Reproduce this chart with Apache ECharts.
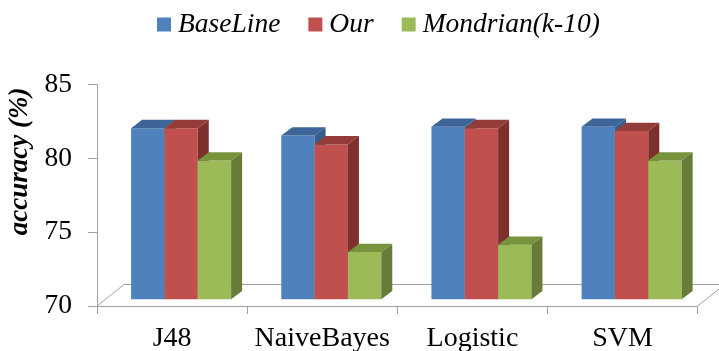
<!DOCTYPE html>
<html>
<head>
<meta charset="utf-8">
<script src="https://cdn.jsdelivr.net/npm/echarts@6/dist/echarts.min.js"></script>
<style>
  html, body { margin: 0; padding: 0; background: #fff; }
  #chart { width: 719px; height: 351px; }
</style>
</head>
<body>
<div id="chart"></div>
<script>
// Classifier accuracy (%) per method
const categories = ['J48', 'NaiveBayes', 'Logistic', 'SVM'];
const seriesNames = ['BaseLine', 'Our', 'Mondrian(k-10)'];
const baseline = [81.6, 81.1, 81.7, 81.7];
const ours = [81.6, 80.5, 81.6, 81.4];
const mondrian = [79.4, 73.2, 73.7, 79.4];
const yTicks = [70, 75, 80, 85];

// Face colours for each series: front, top, side
const palette = [
  { front: '#4F81BD', top: '#3D6597', side: '#385D8A' },
  { front: '#C0504D', top: '#943C3A', side: '#7D302E' },
  { front: '#9BBB59', top: '#77933C', side: '#667C38' }
];

// Oblique 3D geometry (pixels)
const FLOOR_DX = 27, FLOOR_DY = -21.5;   // depth of the floor
const PLANE_DX = 9, PLANE_DY = -6.7;     // where the bar fronts sit on the floor
const BAR_DX = 11, BAR_DY = -8.3;        // depth of each bar
const BAR_FRAC = 0.222;                  // bar width as fraction of a category band
const AXIS_GRAY = '#a0a0a0';
const SERIF = 'Liberation Serif';

const yMin = yTicks[0], yMax = yTicks[yTicks.length - 1];

function barRenderer(idx) {
  const col = palette[idx];
  return function (params, api) {
    const c = api.value(0), v = api.value(1);
    const topPt = api.coord([c, v]);
    const basePt = api.coord([c, yMin]);
    const band = api.size([1, 0])[0];
    const w = band * BAR_FRAC;
    const x0 = topPt[0] - 1.5 * w + idx * w + PLANE_DX;
    const x1 = x0 + w;
    const yt = topPt[1] + PLANE_DY;
    const yb = basePt[1] + PLANE_DY;
    return {
      type: 'group',
      children: [
        { type: 'rect', shape: { x: x0, y: yt, width: w, height: yb - yt },
          style: { fill: col.front } },
        { type: 'polygon', shape: { points: [[x0, yt], [x1, yt], [x1 + BAR_DX, yt + BAR_DY], [x0 + BAR_DX, yt + BAR_DY]] },
          style: { fill: col.top } },
        { type: 'polygon', shape: { points: [[x1, yt], [x1 + BAR_DX, yt + BAR_DY], [x1 + BAR_DX, yb + BAR_DY], [x1, yb]] },
          style: { fill: col.side } }
      ]
    };
  };
}

function floorRenderer(params, api) {
  const cs = params.coordSys;
  const xL = cs.x, xR = cs.x + cs.width;
  const y0 = api.coord([0, yMin])[1];
  return {
    type: 'polyline',
    shape: { points: [[xL, y0], [xL + FLOOR_DX, y0 + FLOOR_DY], [xR + FLOOR_DX, y0 + FLOOR_DY], [xR, y0]] },
    style: { stroke: AXIS_GRAY, lineWidth: 1, fill: null }
  };
}

const values = [baseline, ours, mondrian];
const series = [{
  type: 'custom',
  name: '_floor',
  renderItem: floorRenderer,
  data: [[0, yMin]],
  silent: true,
  z: 1
}];
values.forEach(function (arr, i) {
  series.push({
    type: 'custom',
    name: seriesNames[i],
    renderItem: barRenderer(i),
    itemStyle: { color: palette[i].front },
    encode: { x: 0, y: 1 },
    data: arr.map(function (v, c) { return [c, v]; }),
    z: 2 + i
  });
});

const chart = echarts.init(document.getElementById('chart'), null, { renderer: 'canvas' });
chart.setOption({
  animation: false,
  backgroundColor: '#fff',
  textStyle: { fontFamily: SERIF },
  legend: {
    data: seriesNames,
    left: 152,
    top: 6,
    icon: 'rect',
    itemWidth: 14,
    itemHeight: 14,
    itemGap: 28,
    textStyle: { fontFamily: SERIF, fontStyle: 'italic', fontSize: 27.5, color: '#000', padding: [0, 0, 0, 2] }
  },
  grid: { left: 97, right: 21.3, top: 84.7, bottom: 45, containLabel: false, outerBoundsMode: 'none' },
  xAxis: {
    type: 'category',
    data: categories,
    boundaryGap: true,
    axisLine: { show: true, lineStyle: { color: AXIS_GRAY, width: 1 } },
    axisTick: { show: true, length: 8, lineStyle: { color: AXIS_GRAY } },
    axisLabel: { fontFamily: SERIF, fontSize: 28, color: '#000', margin: 19, interval: 0, hideOverlap: false },
    splitLine: { show: false }
  },
  yAxis: {
    type: 'value',
    min: yMin,
    max: yMax,
    interval: 5,
    name: 'accuracy (%)',
    nameLocation: 'middle',
    nameGap: 62,
    nameTextStyle: { fontFamily: SERIF, fontStyle: 'italic', fontWeight: 'bold', fontSize: 27, color: '#000', padding: [0, 0, 0, 68] },
    axisLine: { show: true, lineStyle: { color: AXIS_GRAY, width: 1 } },
    axisTick: { show: true, length: 9, lineStyle: { color: AXIS_GRAY } },
    axisLabel: { fontFamily: SERIF, fontSize: 27.5, color: '#000', margin: 25 },
    splitLine: { show: false }
  },
  series: series
});
</script>
</body>
</html>
